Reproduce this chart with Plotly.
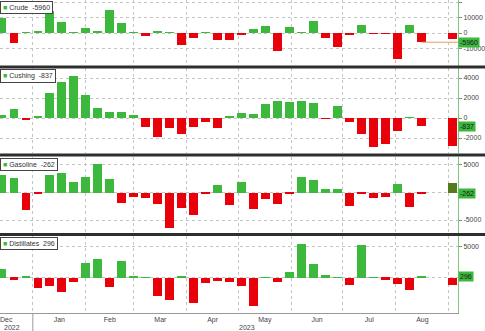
import pandas as pd
import plotly.graph_objects as go
from plotly.subplots import make_subplots

# Weekly EIA inventory changes (thousand barrels), plotted on release Wednesdays
dates = pd.date_range("2022-12-14", periods=36, freq="7D")
edge_date = "2023-09-03"

crude = [9700, -6400, 300, 1000, 14000, 7100, 300, 3300, 1500, 14800, 6500, 500,
         -2000, 800, 500, -7500, -3500, 300, -4300, -4800, -1000, 2800, 4600, -11500,
         4000, 300, 7500, -3500, -9200, -1000, 5400, -600, -600, -17000, 5000, -5960]
cushing = [350, 870, -200, 230, 2470, 3630, 4200, 2300, 970, 570, 630, 270,
           -870, -1870, -1030, -1600, -930, -370, -1030, 230, 470, 370, 1400, 1730,
           1570, 1700, 1500, -100, 1170, -430, -1600, -2870, -2600, -1250, 100, -837]
gasoline = [3150, 2670, -3100, -250, 3150, 3580, 1820, 2730, 5100, 2430, -1820, -850,
            -1090, -2000, -6370, -2790, -4120, -250, 1330, -2300, 1820, -3030, -1270, -2000,
            -200, 2850, 2250, 550, 670, -2490, -100, -970, -790, 1460, -2600, -262]
distillates = [1400, -320, 200, -1660, -1240, -2200, -640, 2470, 3000, -1500, 2740, 200,
               150, -2850, -3600, 270, -3970, -750, -480, -640, -1290, -4500, 100, -640,
               1020, 5530, 2310, 430, 150, -1130, 5260, 100, -320, -910, -1880, 296]
edge_vals = [-3700, -2800, 1800, -1070]

names = ["Crude", "Cushing", "Gasoline", "Distillates"]
series = [crude, cushing, gasoline, distillates]
latest_labels = ["-5960", "-837", "-262", "296"]
tick_sets = [[-10000, 0, 10000, 20000], [-2000, 0, 2000, 4000], [-5000, 0, 5000], [0, 5000]]
tick_texts = [["-10000", "0", "10000", "20000"], ["-2000", "0", "2000", "4000"],
              ["-5000", "", "5000"], ["", "5000"]]
years = ["2022", "2023"]

GREEN = "#3cb83c"
RED = "#e8000b"
EDGE_COLORS = [RED, RED, "#557a1c", RED]
GRID = "#c4c4c4"
FONT = "Liberation Sans, Arial, sans-serif"

PLOT_H = 313
ranges = [[-21300, 21300], [-3500, 5000], [-7360, 6450], [-5650, 6770]]
px_dom = [(0, 66), (68, 153), (157, 233), (236, 313)]
domains = [[(PLOT_H - b) / PLOT_H, (PLOT_H - t) / PLOT_H] for t, b in px_dom]

fig = make_subplots(rows=4, cols=1, shared_xaxes=True, vertical_spacing=0.01)

bar_w = 5.2 * 86400000
for i, (nm, vals) in enumerate(zip(names, series)):
    colors = [GREEN if v >= 0 else RED for v in vals]
    fig.add_trace(go.Bar(x=dates, y=vals, marker_color=colors, marker_line_width=0,
                         width=bar_w, name=nm, showlegend=False), row=i + 1, col=1)
    fig.add_trace(go.Bar(x=[edge_date], y=[edge_vals[i]], marker_color=EDGE_COLORS[i],
                         marker_line_width=0, width=bar_w, showlegend=False),
                  row=i + 1, col=1)

x_range = ["2022-12-12 20:00", "2023-09-06 07:00"]
for i in range(4):
    ax = "xaxis" if i == 0 else f"xaxis{i + 1}"
    ay = "yaxis" if i == 0 else f"yaxis{i + 1}"
    fig.layout[ax].update(
        type="date", range=x_range, dtick="M1", tick0="2022-12-01",
        ticklabelmode="period", tickformat="%b",
        showgrid=True, gridcolor=GRID, griddash="dot", gridwidth=1,
        showticklabels=(i == 3), ticks="",
        showline=(i == 3), linecolor="#999", linewidth=1,
        tickfont=dict(family=FONT, size=7, color="#444"),
        zeroline=False, domain=[0, 1],
    )
    fig.layout[ay].update(
        domain=domains[i], range=ranges[i], side="right",
        tickvals=tick_sets[i], ticktext=tick_texts[i],
        ticks="outside", ticklen=3, tickcolor="#888",
        tickfont=dict(family=FONT, size=7, color="#444"),
        showgrid=True, gridcolor=GRID, griddash="dot", gridwidth=1,
        zeroline=False, showline=True, linecolor="#7cc77c", linewidth=1,
    )

annotations = []
for i, nm in enumerate(names):
    yr = "y" if i == 0 else f"y{i + 1}"
    xr = "x" if i == 0 else f"x{i + 1}"
    annotations.append(dict(
        xref=f"{xr} domain", yref=f"{yr} domain", x=0.0, y=1.0,
        xanchor="left", yanchor="top", showarrow=False,
        text=f"<span style='color:{GREEN}'>■</span> {nm}  {latest_labels[i]}",
        font=dict(family=FONT, size=7, color="#333"),
        bgcolor="white", bordercolor="#444", borderwidth=1, borderpad=2, yshift=-1,
    ))
    annotations.append(dict(
        xref="paper", yref=yr, x=1.0, y=series[i][-1], xanchor="left", yanchor="middle",
        showarrow=False, text=latest_labels[i],
        font=dict(family=FONT, size=7, color="#1a1a1a"),
        bgcolor=GREEN, borderpad=1,
    ))

for yt, xd in zip(years, ["2022-12-20", "2023-05-06"]):
    annotations.append(dict(xref="x4", yref="paper", x=xd, y=-(327.5 - PLOT_H) / PLOT_H,
                            text=yt, showarrow=False, yanchor="middle",
                            font=dict(family=FONT, size=7, color="#444")))

shapes = []
for ypx in [67, 155, 234.5]:
    yp = (PLOT_H - ypx) / PLOT_H
    shapes.append(dict(type="line", xref="paper", yref="paper", x0=-0.01, x1=1.1,
                       y0=yp, y1=yp, line=dict(color="#2e2e2e", width=3)))
shapes.append(dict(type="line", xref="x", yref="y", x0=dates[-1], x1=x_range[1],
                   y0=crude[-1], y1=crude[-1], line=dict(color="#d9a35e", width=1)))
shapes.append(dict(type="line", xref="x4", yref="paper", x0="2023-01-01", x1="2023-01-01",
                   y0=0, y1=-18 / PLOT_H, line=dict(color="#999", width=1)))

fig.update_layout(
    width=485, height=331, margin=dict(l=0, r=22, t=0, b=18),
    plot_bgcolor="white", paper_bgcolor="white", bargap=0,
    annotations=annotations, shapes=shapes, showlegend=False,
    font=dict(family=FONT, size=7, color="#444"),
)

fig.write_html("out.html")
